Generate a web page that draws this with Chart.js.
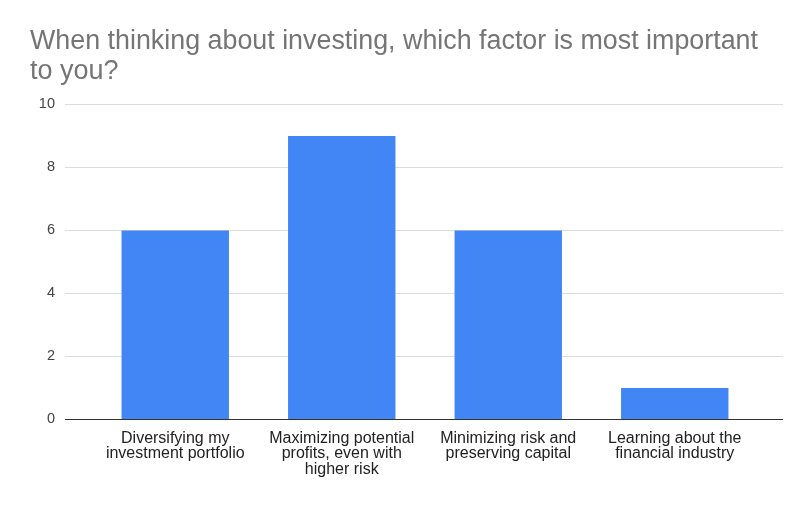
<!DOCTYPE html>
<html>
<head>
<meta charset="utf-8">
<script src="https://cdn.jsdelivr.net/npm/chart.js@4"></script>
<style>
  html, body { margin: 0; padding: 0; background: #fff; }
  #wrap { width: 799px; height: 508px; }
</style>
</head>
<body>
<div id="wrap"><canvas id="chart-factor" width="799" height="508"></canvas></div>
<script>
// Survey answers: what matters most when investing
const titleLines = ['When thinking about investing, which factor is most important', 'to you?'];
const categories = [
    ['Diversifying my', 'investment portfolio'],
    ['Maximizing potential', 'profits, even with', 'higher risk'],
    ['Minimizing risk and', 'preserving capital'],
    ['Learning about the', 'financial industry']
];
const counts = [6, 9, 6, 1];
const yTicks = [0, 2, 4, 6, 8, 10];

// Horizontal gridlines run wider than the category band, so draw them by hand
const wideGrid = {
    id: 'wideGrid',
    beforeDatasetsDraw(chart) {
        const y = chart.scales.y;
        const ctx = chart.ctx;
        ctx.save();
        ctx.lineWidth = 1;
        ctx.strokeStyle = '#dcdcdc';
        yTicks.forEach(v => {
            if (v === 0) return;
            const py = Math.round(y.getPixelForValue(v)) + 0.5;
            ctx.beginPath();
            ctx.moveTo(65, py);
            ctx.lineTo(783, py);
            ctx.stroke();
        });
        ctx.restore();
    },
    afterDatasetsDraw(chart) {
        const y = chart.scales.y;
        const ctx = chart.ctx;
        const py = Math.round(y.getPixelForValue(0)) + 0.5;
        ctx.save();
        ctx.lineWidth = 1;
        ctx.strokeStyle = '#333333';
        ctx.beginPath();
        ctx.moveTo(65, py);
        ctx.lineTo(783, py);
        ctx.stroke();
        ctx.restore();
    }
};

new Chart(document.getElementById('chart-factor'), {
    type: 'bar',
    data: {
        labels: categories,
        datasets: [{
            data: counts,
            backgroundColor: '#4285f4',
            borderWidth: 0,
            categoryPercentage: 1,
            barPercentage: 0.645
        }]
    },
    options: {
        responsive: false,
        animation: false,
        layout: {
            padding: { left: 30, right: 41, top: 27, bottom: 20 }
        },
        plugins: {
            legend: { display: false },
            tooltip: { enabled: false },
            title: {
                display: true,
                text: titleLines,
                align: 'start',
                color: '#757575',
                font: { family: '"Liberation Sans", Arial, sans-serif', size: 27, weight: 'normal', lineHeight: 1.1 },
                padding: { top: 0, bottom: 18 }
            }
        },
        scales: {
            x: {
                grid: { display: false, drawTicks: false },
                border: { display: false },
                ticks: {
                    color: '#222222',
                    padding: 11,
                    maxRotation: 0,
                    autoSkip: false,
                    font: { family: '"Liberation Sans", Arial, sans-serif', size: 16, lineHeight: 0.97 }
                }
            },
            y: {
                min: 0,
                max: 10,
                afterFit(scale) { scale.width = 62; },
                afterBuildTicks(scale) { scale.ticks = yTicks.map(v => ({ value: v })); },
                grid: { display: false, drawTicks: false },
                border: { display: false },
                ticks: {
                    color: '#444444',
                    padding: 37,
                    font: { family: '"Liberation Sans", Arial, sans-serif', size: 14.5 }
                }
            }
        }
    },
    plugins: [wideGrid]
});
</script>
</body>
</html>
